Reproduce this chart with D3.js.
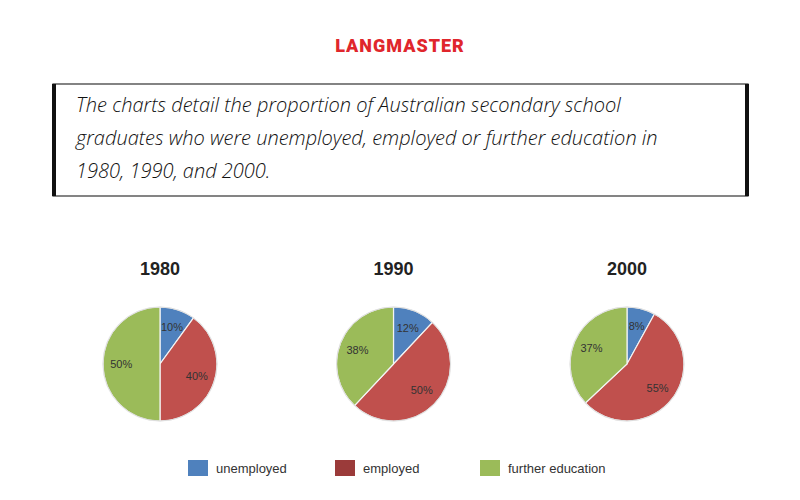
<!DOCTYPE html>
<html><head><meta charset="utf-8">
<script src="https://cdn.jsdelivr.net/npm/d3@7"></script>
<style>body{margin:0;background:#fff}</style>
</head><body><div id="chart"></div>
<script>
var years = ["1980", "1990", "2000"];
var categories = ["unemployed", "employed", "further education"];
var unemployed = [10, 12, 8];
var employed = [40, 50, 55];
var furtherEducation = [50, 38, 37];

var colors = ["#4f81bd", "#c0504d", "#9bbb59"];
var legendColors = ["#4f81bd", "#9b3b3a", "#9bbb59"];

var svg = d3.select("#chart").append("svg").attr("width", 800).attr("height", 500);

// header
svg.append("text").attr("x", 400).attr("y", 52).attr("text-anchor", "middle")
  .attr("font-family", "Roboto").attr("font-weight", 900).attr("font-size", 18)
  .attr("fill", "#e0262c").attr("letter-spacing", 1).text("LANGMASTER");

svg.append("rect").attr("x", 53).attr("y", 84).attr("width", 695).attr("height", 112)
  .attr("fill", "none").attr("stroke", "#333").attr("stroke-width", 1.2);
svg.append("rect").attr("x", 52).attr("y", 84).attr("width", 4).attr("height", 112).attr("fill", "#111");
svg.append("rect").attr("x", 745).attr("y", 84).attr("width", 4).attr("height", 112).attr("fill", "#111");

var lines = ["The charts detail the proportion of Australian secondary school",
  "graduates who were unemployed, employed or further education in",
  "1980, 1990, and 2000."];
svg.selectAll(".hl").data(lines).enter().append("text")
  .attr("x", 76).attr("y", (d, i) => 112 + i * 33)
  .attr("font-family", "Open Sans").attr("font-style", "italic").attr("font-weight", 300)
  .attr("font-size", 20).attr("fill", "#111").text(d => d);

// pies
var x = d3.scalePoint().domain(years).range([160, 627]);
var pie = d3.pie().sort(null).value(d => d);
var r = 57;
var arc = d3.arc().innerRadius(0).outerRadius(r);
var labelArc = d3.arc().innerRadius(r * 0.68).outerRadius(r * 0.68);

years.forEach(function(y, i) {
  var vals = [unemployed[i], employed[i], furtherEducation[i]];
  var g = svg.append("g").attr("transform", `translate(${x(y)},364)`);
  g.append("text").attr("y", -89).attr("text-anchor", "middle")
    .attr("font-family", "Liberation Sans").attr("font-weight", "bold").attr("font-size", 18)
    .attr("fill", "#222").text(y);
  var arcs = pie(vals);
  g.selectAll("path").data(arcs).enter().append("path")
    .attr("d", arc).attr("fill", (d, j) => colors[j])
    .attr("stroke", "#f4f4f4").attr("stroke-width", 1.2);
  g.append("circle").attr("r", r).attr("fill", "none").attr("stroke", "#ddd").attr("stroke-width", 1);
  g.selectAll(".lbl").data(arcs).enter().append("text")
    .attr("transform", d => `translate(${labelArc.centroid(d)})`)
    .attr("dy", "0.35em").attr("text-anchor", "middle")
    .attr("font-family", "Liberation Sans").attr("font-size", 11).attr("fill", "#333")
    .text(d => d.data + "%");
});

// legend
var lx = [188, 335, 480];
categories.forEach(function(c, i) {
  svg.append("rect").attr("x", lx[i]).attr("y", 460).attr("width", 20).attr("height", 16)
    .attr("fill", legendColors[i]);
  svg.append("text").attr("x", lx[i] + 28).attr("y", 473)
    .attr("font-family", "Liberation Sans").attr("font-size", 13).attr("fill", "#333").text(c);
});
</script></body></html>
